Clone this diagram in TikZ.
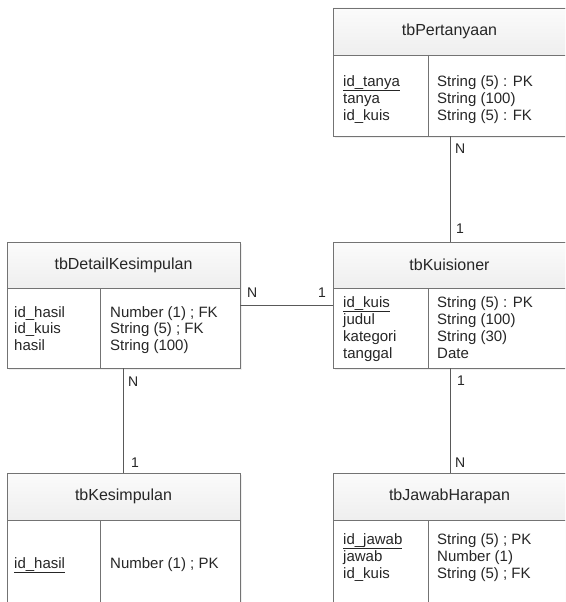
\documentclass[tikz,border=0pt]{standalone}
\usepackage{fontspec}
\setmainfont{Liberation Sans}
\usetikzlibrary{shadows}
\begin{document}
\begin{tikzpicture}[x=1pt,y=-1pt]
\tikzset{
 tbl/.style={draw=black!55, line width=0.8pt, fill=white, minimum width=233pt, anchor=north west, inner sep=0pt, outer sep=0pt, drop shadow={shadow xshift=2pt, shadow yshift=-2pt, opacity=0.12}},
 hdr/.style={draw=black!55, line width=0.8pt, top color=gray!3, bottom color=gray!13, minimum width=233pt, anchor=north west, inner sep=0pt, outer sep=0pt},
 wide/.style={minimum width=237pt},
 ttl/.style={font=\fontsize{16}{19}\selectfont, text=black!85},
 fld/.style={font=\fontsize{15}{17}\selectfont, text=black!85, anchor=base west, inner sep=0pt},
 card/.style={font=\fontsize{14}{17}\selectfont, text=black!85, anchor=base west, inner sep=0pt},
 link/.style={draw=black!65, line width=0.8pt},
 divl/.style={draw=black!55, line width=0.8pt}
}
\useasboundingbox (0,0) rectangle (565,602);
\clip (0,0) rectangle (565,602);
\fill[white] (0,0) rectangle (565,602);

% tbPertanyaan
\node[tbl, wide, minimum height=128pt] (P) at (333,8) {};
\node[hdr, wide, minimum height=47pt] (Ph) at (333,8) {};
\node[ttl] (Pt) at ([xshift=-2pt]Ph.center) {tbPertanyaan};
\draw[divl] (428,55) -- (428,136);
\node[fld] (P1) at (343,86) {\underline{id\_tanya}};
\node[fld] (P2) at (343,103) {tanya};
\node[fld] (P3) at (343,120) {id\_kuis};
\node[fld] (P4) at (437,86) {String (5) : PK};
\node[fld] (P5) at (437,103) {String (100)};
\node[fld] (P6) at (437,120) {String (5) : FK};

% tbKuisioner
\node[tbl, wide, minimum height=126pt] (K) at (333,242) {};
\node[hdr, wide, minimum height=46pt] (Kh) at (333,242) {};
\node[ttl] (Kt) at ([xshift=-2pt]Kh.center) {tbKuisioner};
\draw[divl] (428,288) -- (428,368);
\node[fld] (K1) at (343,307) {\underline{id\_kuis}};
\node[fld] (K2) at (343,324) {judul};
\node[fld] (K3) at (343,341) {kategori};
\node[fld] (K4) at (343,358) {tanggal};
\node[fld] (K5) at (437,307) {String (5) : PK};
\node[fld] (K6) at (437,324) {String (100)};
\node[fld] (K7) at (437,341) {String (30)};
\node[fld] (K8) at (437,358) {Date};

% tbDetailKesimpulan
\node[tbl, minimum height=126pt] (D) at (7,242) {};
\node[hdr, minimum height=46pt] (Dh) at (7,242) {};
\node[ttl] (Dt) at (Dh.center) {tbDetailKesimpulan};
\draw[divl] (100,288) -- (100,368);
\node[fld] (D1) at (14,317) {id\_hasil};
\node[fld] (D2) at (14,333) {id\_kuis};
\node[fld] (D3) at (14,350) {hasil};
\node[fld] (D4) at (110,317) {Number (1) ; FK};
\node[fld] (D5) at (110,333) {String (5) ; FK};
\node[fld] (D6) at (110,350) {String (100)};

% tbKesimpulan
\node[tbl, minimum height=140pt] (S) at (7,473) {};
\node[hdr, minimum height=47pt] (Sh) at (7,473) {};
\node[ttl] (St) at (Sh.center) {tbKesimpulan};
\draw[divl] (100,520) -- (100,613);
\node[fld] (S1) at (14,568) {\underline{id\_hasil}};
\node[fld] (S2) at (110,568) {Number (1) ; PK};

% tbJawabHarapan
\node[tbl, wide, minimum height=140pt] (J) at (333,473) {};
\node[hdr, wide, minimum height=47pt] (Jh) at (333,473) {};
\node[ttl] (Jt) at ([xshift=-2pt]Jh.center) {tbJawabHarapan};
\draw[divl] (428,520) -- (428,613);
\node[fld] (J1) at (343,544) {\underline{id\_jawab}};
\node[fld] (J2) at (343,561) {jawab};
\node[fld] (J3) at (343,578) {id\_kuis};
\node[fld] (J4) at (437,544) {String (5) ; PK};
\node[fld] (J5) at (437,561) {Number (1)};
\node[fld] (J6) at (437,578) {String (5) ; FK};

% connectors
\draw[link] ([xshift=-1pt]P.south) -- ([xshift=-1pt]K.north);
\draw[link] (D.east) -- (K.west);
\draw[link] (D.south) -- (S.north);
\draw[link] ([xshift=-1pt]K.south) -- ([xshift=-1pt]J.north);

% cardinalities
\node[card] (c1) at (455,153) {N};
\node[card] (c2) at (456,233) {1};
\node[card] (c3) at (247,297) {N};
\node[card] (c4) at (318,297) {1};
\node[card] (c5) at (128,386) {N};
\node[card] (c6) at (131,467) {1};
\node[card] (c7) at (457,385) {1};
\node[card] (c8) at (455,467) {N};
\end{tikzpicture}
\end{document}
